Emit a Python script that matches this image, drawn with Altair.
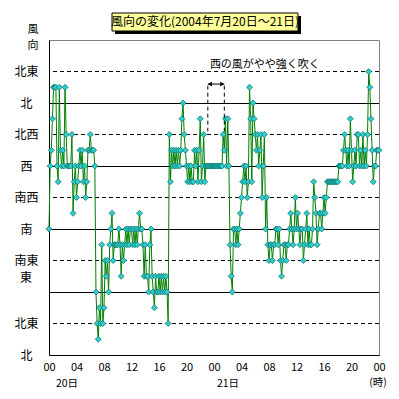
import altair as alt
import pandas as pd

# wind direction in 16-point units: 0=北, 2=北東, 4=東, 6=南東, 8=南, 10=南西, 12=西, 14=北西, 16=北, 18=北東
# 10-minute samples, one row per hour
day20 = [
    [8, 12, 13, 15, 17, 17],
    [17, 12, 11, 17, 13, 12],
    [13, 12, 17, 14, 12, 12],
    [12, 12, 14, 9, 11, 12],
    [10, 11, 12, 13, 12, 13],
    [11, 12, 10, 11, 13, 13],
    [14, 13, 13, 13, 12, 4],
    [2, 1, 3, 2, 7, 2],
    [3, 6, 5, 6, 4, 7],
    [8, 9, 6, 7, 7, 7],
    [7, 8, 7, 5, 7, 6],
    [7, 8, 7, 8, 7, 8],
    [8, 7, 8, 7, 8, 7],
    [8, 9, 8, 8, 7, 5],
    [7, 5, 5, 4, 7, 8],
    [5, 4, 3, 5, 4, 4],
    [5, 4, 5, 4, 5, 4],
    [5, 4, 2, 14, 11, 13],
    [12, 13, 12, 13, 12, 13],
    [12, 13, 15, 16, 14, 13],
    [12, 11, 12, 11, 12, 11],
    [11, 13, 12, 13, 11, 13],
    [15, 11, 12, 14, 11, 12],
    [12, 12, 12, 12, 12, 12],
]
day21 = [
    [12, 12, 12, 12, 12, 12],
    [12, 12, 14, 13, 15, 12],
    [15, 12, 7, 5, 4, 8],
    [8, 7, 8, 7, 8, 9],
    [10, 11, 12, 11, 12, 10],
    [11, 17, 15, 11, 16, 15],
    [14, 13, 14, 12, 13, 14],
    [10, 12, 14, 8, 10, 7],
    [6, 7, 7, 6, 7, 7],
    [8, 8, 7, 8, 6, 5],
    [6, 7, 7, 6, 7, 7],
    [8, 9, 8, 7, 8, 10],
    [8, 9, 8, 7, 8, 8],
    [6, 7, 8, 9, 7, 8],
    [7, 7, 8, 11, 10, 9],
    [7, 8, 9, 9, 8, 9],
    [10, 9, 10, 11, 11, 11],
    [11, 11, 11, 11, 11, 11],
    [11, 12, 12, 12, 12, 13],
    [14, 13, 12, 13, 12, 15],
    [13, 11, 12, 13, 12, 14],
    [14, 12, 13, 12, 14, 12],
    [13, 12, 14, 18, 17, 15],
    [13, 11, 12, 12, 13, 13],
]
last_value = [13]

dir_labels = ["北", "北東", "東", "南東", "南", "南西", "西", "北西", "北", "北東"]
solid_levels = [4, 8, 12, 16]
dashed_levels = [2, 6, 10, 14, 18]
x_ticks = [0, 4, 8, 12, 16, 20, 24, 28, 32, 36, 40, 44, 48]

title_text = "風向の変化(2004年7月20日～21日)"
note_text = "西の風がやや強く吹く"
note_span = [23.1, 25.5]

FONT = "Noto Sans CJK JP"

values = [v for row in day20 + day21 for v in row] + last_value
df = pd.DataFrame({"t": [i / 6 for i in range(len(values))], "d": values})

xs = alt.Scale(domain=[0, 48], nice=False, zero=False)
ys = alt.Scale(domain=[0, 20], nice=False, zero=False)

lbl_js = "[" + ",".join("'" + (s if s != "東" else "") + "'" for s in dir_labels) + "]"

one = pd.DataFrame({"a": [0]})

x_axis = alt.Axis(
    values=x_ticks,
    labelExpr="(datum.value % 24) < 10 ? '0' + (datum.value % 24) : '' + (datum.value % 24)",
    title=None,
    grid=False,
    ticks=False,
    domainColor="black",
    labelColor="black",
    labelFont=FONT,
    labelFontSize=11,
    labelPadding=6,
    labelFlush=False,
    labelOverlap=False,
)
y_axis = alt.Axis(
    values=[0, 2, 4, 6, 8, 10, 12, 14, 16, 18],
    labelExpr=lbl_js + "[datum.value/2]",
    title=None,
    grid=False,
    ticks=False,
    domainColor="black",
    labelColor="black",
    labelFont=FONT,
    labelFontSize=12,
    labelAlign="center",
    labelBaseline="middle",
    labelPadding=23,
    labelOverlap=False,
    labelFlush=False,
)

base = alt.Chart(df).encode(
    x=alt.X("t:Q", scale=xs, axis=x_axis),
    y=alt.Y("d:Q", scale=ys, axis=y_axis),
)
line = base.mark_line(color="#008000", strokeWidth=1)
pts = base.mark_point(
    shape="diamond", filled=True, fill="#33CCCC", stroke="#007060", strokeWidth=0.7, size=36, opacity=1
)

solid = alt.Chart(pd.DataFrame({"y": solid_levels})).mark_rule(
    color="black", strokeWidth=1, yOffset=0.5
).encode(y=alt.Y("y:Q", scale=ys, axis=y_axis))
dashed = alt.Chart(pd.DataFrame({"y": dashed_levels})).mark_rule(
    color="black", strokeWidth=1, strokeDash=[4, 3]
).encode(y=alt.Y("y:Q", scale=ys, axis=y_axis))

# annotation
vlines = alt.Chart(pd.DataFrame({"x": note_span})).mark_rule(
    color="black", strokeDash=[4, 3], strokeWidth=1
).encode(
    x=alt.X("x:Q", scale=xs, axis=x_axis),
    y=alt.datum(17.1, scale=ys, axis=y_axis),
    y2=alt.datum(14.2),
)
arrow = alt.Chart(one).mark_rule(color="black", strokeWidth=1).encode(
    x=alt.datum(note_span[0], scale=xs, axis=x_axis),
    x2=alt.datum(note_span[1]),
    y=alt.datum(17.2, scale=ys, axis=y_axis),
)
arr_l = alt.Chart(one).mark_point(shape="triangle-left", filled=True, color="black", size=22, opacity=1).encode(
    x=alt.datum(note_span[0] + 0.3, scale=xs, axis=x_axis), y=alt.datum(17.2, scale=ys, axis=y_axis)
)
arr_r = alt.Chart(one).mark_point(shape="triangle-right", filled=True, color="black", size=22, opacity=1).encode(
    x=alt.datum(note_span[1] - 0.3, scale=xs, axis=x_axis), y=alt.datum(17.2, scale=ys, axis=y_axis)
)
note = alt.Chart(one).mark_text(
    text=note_text, font=FONT, fontSize=11, align="left", baseline="middle", color="black"
).encode(x=alt.datum(23.4, scale=xs, axis=x_axis), y=alt.datum(18.4, scale=ys, axis=y_axis))

# title box
shadow = alt.Chart(one).mark_rect(color="black").encode(
    x=alt.value(66), x2=alt.value(252), y=alt.value(-24), y2=alt.value(-6)
)
box = alt.Chart(one).mark_rect(fill="#FFFF99", stroke="black", strokeWidth=1).encode(
    x=alt.value(63), x2=alt.value(249), y=alt.value(-27), y2=alt.value(-9)
)
title = alt.Chart(one).mark_text(
    text=title_text, font=FONT, fontSize=12, align="center", baseline="middle", color="black"
).encode(x=alt.value(156), y=alt.value(-18))

def txt(s, x, y, size=12):
    return alt.Chart(one).mark_text(
        text=s, font=FONT, fontSize=size, align="center", baseline="middle", color="black"
    ).encode(x=alt.value(x), y=alt.value(y))

extras = [
    txt("風", -16, -10, 11),
    txt("向", -16, 6, 11),
    txt("東", -23, 238),
    txt("20日", 18, 344, 10.5),
    txt("21日", 179, 344, 10.5),
    txt("(時)", 329, 343, 10.5),
]

chart = alt.layer(
    base.mark_line(color="#008000", strokeWidth=1, opacity=0),
    solid, dashed, line, pts, vlines, arrow, arr_l, arr_r, note, shadow, box, title, *extras
).properties(
    width=330,
    height=315,
    autosize=alt.AutoSizeParams(type="none"),
    padding={"left": 41, "top": 32, "right": 12, "bottom": 36},
    background="white",
).configure_view(stroke="#808080", strokeWidth=1)

chart.save("out.html", embed_options={"renderer": "svg", "actions": False})
